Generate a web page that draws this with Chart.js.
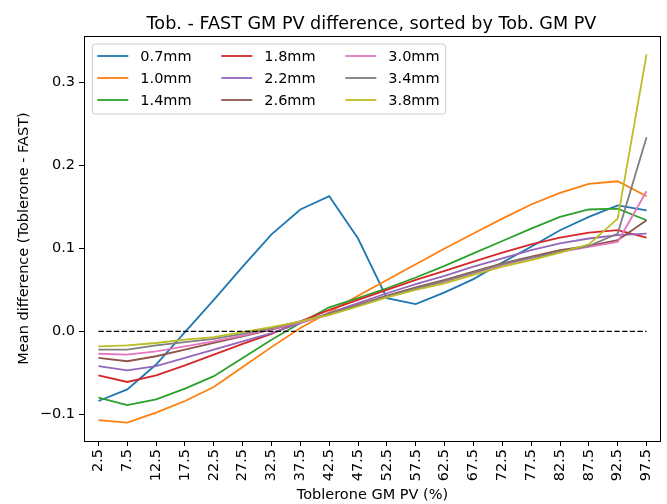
<!DOCTYPE html>
<html>
<head>
<meta charset="utf-8">
<script src="https://cdn.jsdelivr.net/npm/chart.js@4.4.1/dist/chart.umd.min.js"></script>
<style>
  html, body { margin: 0; padding: 0; background: #ffffff; }
  #wrap { width: 667px; height: 504px; }
</style>
</head>
<body>
<div id="wrap"><canvas id="c" width="667" height="504"></canvas></div>
<script>
// Toblerone GM PV bins (%)
const gmPvBins = ['2.5', '7.5', '12.5', '17.5', '22.5', '27.5', '32.5', '37.5', '42.5', '47.5',
                  '52.5', '57.5', '62.5', '67.5', '72.5', '77.5', '82.5', '87.5', '92.5', '97.5'];

const voxelSizes = ['0.7mm', '1.0mm', '1.4mm', '1.8mm', '2.2mm', '2.6mm', '3.0mm', '3.4mm', '3.8mm'];

// Mean difference (Toblerone - FAST) per bin, one array per voxel size
const diff07 = [-0.084, -0.070, -0.040, -0.001, 0.038, 0.078, 0.117, 0.147, 0.163, 0.112,
                 0.040, 0.033, 0.047, 0.063, 0.083, 0.102, 0.122, 0.138, 0.152, 0.146];
const diff10 = [-0.107, -0.110, -0.098, -0.084, -0.067, -0.043, -0.019, 0.004, 0.023, 0.043,
                 0.062, 0.081, 0.100, 0.118, 0.136, 0.153, 0.167, 0.178, 0.181, 0.163];
const diff14 = [-0.080, -0.089, -0.082, -0.069, -0.054, -0.032, -0.010, 0.010, 0.029, 0.040,
                 0.052, 0.065, 0.079, 0.094, 0.109, 0.124, 0.138, 0.147, 0.148, 0.134];
const diff18 = [-0.053, -0.061, -0.053, -0.041, -0.028, -0.015, -0.003, 0.012, 0.026, 0.038,
                 0.050, 0.062, 0.073, 0.084, 0.095, 0.105, 0.113, 0.119, 0.122, 0.113];
const diff22 = [-0.042, -0.047, -0.042, -0.032, -0.022, -0.012, -0.002, 0.010, 0.022, 0.034,
                 0.046, 0.057, 0.067, 0.078, 0.088, 0.098, 0.106, 0.112, 0.116, 0.118];
const diff26 = [-0.032, -0.036, -0.030, -0.022, -0.014, -0.006, 0.002, 0.011, 0.021, 0.032,
                 0.043, 0.053, 0.062, 0.072, 0.082, 0.090, 0.098, 0.103, 0.110, 0.134];
const diff30 = [-0.027, -0.028, -0.024, -0.018, -0.012, -0.005, 0.003, 0.011, 0.020, 0.031,
                 0.042, 0.051, 0.060, 0.070, 0.080, 0.088, 0.096, 0.102, 0.108, 0.169];
const diff34 = [-0.022, -0.022, -0.017, -0.013, -0.009, -0.003, 0.004, 0.012, 0.021, 0.031,
                 0.042, 0.052, 0.061, 0.071, 0.081, 0.089, 0.096, 0.103, 0.118, 0.234];
const diff38 = [-0.018, -0.017, -0.014, -0.010, -0.007, -0.001, 0.005, 0.012, 0.020, 0.030,
                 0.041, 0.050, 0.058, 0.068, 0.078, 0.086, 0.095, 0.105, 0.136, 0.334];

// Reference line at zero difference
const zeroLine = gmPvBins.map(() => 0);

const yTickValues = [-0.1, 0.0, 0.1, 0.2, 0.3];

const palette = ['#1f77b4', '#ff7f0e', '#2ca02c', '#d62728', '#9467bd',
                 '#8c564b', '#e377c2', '#7f7f7f', '#bcbd22'];

const allSeries = [diff07, diff10, diff14, diff18, diff22, diff26, diff30, diff34, diff38];

// Autoscale with a 5% margin on both ends
const lo = Math.min(...allSeries.flat());
const hi = Math.max(...allSeries.flat());
const pad = 0.05 * (hi - lo);

const FONT = 'DejaVu Sans';
Chart.defaults.font.family = FONT;
Chart.defaults.color = '#000000';

const datasets = allSeries.map((vals, i) => ({
  label: voxelSizes[i],
  data: vals,
  borderColor: palette[i],
  backgroundColor: palette[i],
  borderWidth: 1.8,
  pointRadius: 0,
  tension: 0,
  fill: false,
  order: allSeries.length - i
}));
datasets.push({
  label: 'zero',
  data: zeroLine,
  borderColor: '#000000',
  borderWidth: 1.4,
  borderDash: [5.4, 2.3],
  pointRadius: 0,
  fill: false,
  order: 0
});

// Frame, title and a three-column legend drawn over the plot
const framePlugin = {
  id: 'frameAndLegend',
  afterDatasetsDraw(chart) {
    const { ctx, chartArea: a } = chart;
    ctx.save();
    ctx.strokeStyle = '#000000';
    ctx.lineWidth = 1;
    ctx.strokeRect(Math.round(a.left) + 0.5, Math.round(a.top) + 0.5,
                   Math.round(a.right - a.left) - 1, Math.round(a.bottom - a.top));

    // title
    ctx.fillStyle = '#000000';
    ctx.font = '17.6px "' + FONT + '"';
    ctx.textAlign = 'center';
    ctx.textBaseline = 'alphabetic';
    ctx.fillText('Tob. - FAST GM PV difference, sorted by Tob. GM PV', (a.left + a.right) / 2 - 1, a.top - 7);

    // legend box
    const bx = a.left + 8.3, by = a.top + 8, bw = 353.4, bh = 70, r = 3;
    ctx.beginPath();
    ctx.moveTo(bx + r, by);
    ctx.lineTo(bx + bw - r, by);
    ctx.arcTo(bx + bw, by, bx + bw, by + r, r);
    ctx.lineTo(bx + bw, by + bh - r);
    ctx.arcTo(bx + bw, by + bh, bx + bw - r, by + bh, r);
    ctx.lineTo(bx + r, by + bh);
    ctx.arcTo(bx, by + bh, bx, by + bh - r, r);
    ctx.lineTo(bx, by + r);
    ctx.arcTo(bx, by, bx + r, by, r);
    ctx.closePath();
    ctx.fillStyle = 'rgba(255,255,255,0.8)';
    ctx.fill();
    ctx.strokeStyle = '#cccccc';
    ctx.lineWidth = 1;
    ctx.stroke();

    ctx.font = '14.5px "' + FONT + '"';
    ctx.textAlign = 'left';
    ctx.textBaseline = 'middle';
    const series = chart.data.datasets.slice(0, voxelSizes.length);
    series.forEach((ds, i) => {
      const col = Math.floor(i / 3), row = i % 3;
      const x0 = bx + 5 + col * 124;
      const y0 = by + 12 + row * 22;
      ctx.strokeStyle = ds.borderColor;
      ctx.lineWidth = 1.8;
      ctx.beginPath();
      ctx.moveTo(x0, y0);
      ctx.lineTo(x0 + 31, y0);
      ctx.stroke();
      ctx.fillStyle = '#000000';
      ctx.fillText(ds.label, x0 + 43, y0 + 1);
    });
    ctx.restore();
  }
};

new Chart(document.getElementById('c'), {
  type: 'line',
  data: { labels: gmPvBins, datasets },
  options: {
    responsive: false,
    animation: false,
    devicePixelRatio: 1,
    layout: { padding: { top: 36, right: 2, left: 0, bottom: 0 } },
    plugins: { legend: { display: false }, tooltip: { enabled: false }, title: { display: false } },
    scales: {
      x: {
        type: 'category',
        offset: true,
        border: { display: false },
        grid: { display: true, drawOnChartArea: false, drawTicks: true, tickLength: 5, color: '#000000', lineWidth: 1 },
        ticks: { autoSkip: false, minRotation: 90, maxRotation: 90, padding: 3, font: { size: 14.5 }, color: '#000000' },
        title: { display: true, text: 'Toblerone GM PV (%)', font: { size: 14.5 }, color: '#000000', padding: { top: 0, bottom: 0 } },
        afterFit(scale) { scale.height = 63; }
      },
      y: {
        min: lo - pad,
        max: hi + pad,
        border: { display: false },
        grid: { display: true, drawOnChartArea: false, drawTicks: true, tickLength: 5, color: '#000000', lineWidth: 1 },
        ticks: {
          padding: 4,
          font: { size: 14.5 },
          color: '#000000',
          callback: (v) => Number(v).toFixed(1).replace('-', '\u2212')
        },
        afterBuildTicks(scale) { scale.ticks = yTickValues.map(v => ({ value: v })); },
        title: { display: true, text: 'Mean difference (Toblerone - FAST)', font: { size: 14.5 }, color: '#000000', padding: { top: 16, bottom: 0 } },
        afterFit(scale) { scale.width = 84; }
      }
    }
  },
  plugins: [framePlugin]
});
</script>
</body>
</html>
